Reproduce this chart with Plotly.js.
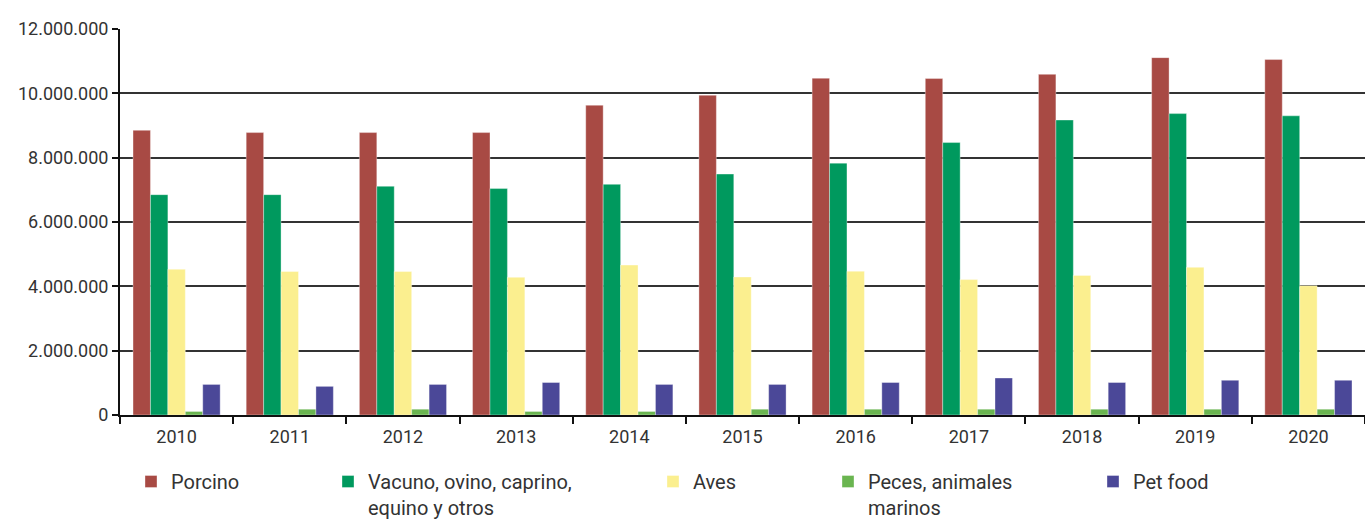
<!DOCTYPE html>
<html>
<head>
<meta charset="utf-8">
<script src="https://cdn.plot.ly/plotly-3.0.1.min.js"></script>
<style>html,body{margin:0;padding:0;background:#fff;}#chart{width:1365px;height:524px;}</style>
</head>
<body>
<div id="chart"></div>
<script>
const years = ['2010','2011','2012','2013','2014','2015','2016','2017','2018','2019','2020'];
const porcino = [8850000, 8780000, 8780000, 8780000, 9630000, 9940000, 10470000, 10460000, 10590000, 11110000, 11050000];
const vacuno  = [6850000, 6850000, 7110000, 7040000, 7170000, 7490000, 7830000, 8470000, 9170000, 9370000, 9300000];
const aves    = [4530000, 4460000, 4460000, 4280000, 4660000, 4290000, 4470000, 4210000, 4340000, 4590000, 4020000];
const peces   = [110000, 180000, 180000, 110000, 110000, 180000, 180000, 180000, 180000, 180000, 180000];
const petfood = [950000, 890000, 950000, 1010000, 950000, 950000, 1010000, 1150000, 1010000, 1080000, 1080000];
const seriesNames = ['Porcino', 'Vacuno, ovino, caprino,<br>equino y otros', 'Aves', 'Peces, animales<br>marinos', 'Pet food'];
const yTicks = [0, 2000000, 4000000, 6000000, 8000000, 10000000, 12000000];

const colors = ['#A84A44', '#00995E', '#FBEF8F', '#6AB550', '#4B4898'];
const series = [porcino, vacuno, aves, peces, petfood];
const legendIds = ['legend', 'legend2', 'legend3', 'legend4', 'legend5'];
const legendX = [131, 328, 653, 828, 1093];

const FONT = 'Roboto, "Open Sans", sans-serif';

const traces = series.map((vals, i) => ({
  type: 'bar',
  x: years,
  y: vals,
  name: seriesNames[i],
  legend: legendIds[i],
  marker: {color: colors[i], line: {color: 'rgba(255,255,255,0.35)', width: 1}},
  hoverinfo: 'x+y+name'
}));

const layout = {
  width: 1365,
  height: 524,
  margin: {l: 120, r: 0, t: 29, b: 109, autoexpand: false},
  paper_bgcolor: '#ffffff',
  plot_bgcolor: '#ffffff',
  separators: ',.',
  barmode: 'group',
  bargap: 0.23,
  bargroupgap: 0,
  font: {family: FONT, size: 18, color: '#333333'},
  xaxis: {
    type: 'category',
    automargin: false,
    tickangle: 0,
    tickson: 'boundaries',
    ticks: 'outside',
    ticklen: 7,
    tickwidth: 2,
    tickcolor: '#111111',
    ticklabelstandoff: 4,
    showline: true,
    linecolor: '#111111',
    linewidth: 2,
    showgrid: false,
    tickfont: {family: FONT, size: 18, color: '#333333'}
  },
  yaxis: {
    automargin: false,
    range: [0, 12000000],
    tickvals: yTicks,
    tickformat: ',.0f',
    ticks: 'outside',
    ticklen: 6,
    tickwidth: 2,
    tickcolor: '#111111',
    showline: true,
    linecolor: '#111111',
    linewidth: 2,
    showgrid: true,
    gridcolor: '#333333',
    gridwidth: 2,
    zeroline: false,
    tickfont: {family: FONT, size: 18, color: '#333333'}
  },
  showlegend: true
};

legendIds.forEach((id, i) => {
  layout[id] = {
    xref: 'container', yref: 'container',
    x: legendX[i] / 1365, xanchor: 'left',
    y: (524 - 462) / 524, yanchor: 'top',
    orientation: 'v',
    valign: 'top',
    bgcolor: 'rgba(0,0,0,0)',
    font: {family: FONT, size: 20, color: '#333333'}
  };
});

Plotly.newPlot('chart', traces, layout, {displayModeBar: false, staticPlot: true});
</script>
</body>
</html>
